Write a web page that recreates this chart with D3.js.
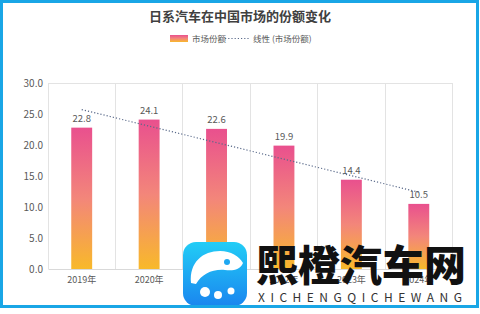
<!DOCTYPE html>
<meta charset="utf-8">
<script src="https://d3js.org/d3.v7.min.js"></script>

<style>
    body { margin: 0; background: #fff; }
    text { font-family: "Noto Sans CJK SC", "Noto Sans", sans-serif; }
    .grid line { stroke: #e3e3e3; stroke-width: 1; shape-rendering: crispEdges; }
</style>

<div id="vis"></div>

<script>
    var years = ["2019年", "2020年", "2021年", "2022年", "2023年", "2024年"]
    var share = [22.8, 24.1, 22.6, 19.9, 14.4, 10.5]
    var yTicks = [0, 5, 10, 15, 20, 25, 30]

    var W = 480, H = 314
    var margin = {top: 83, right: 27.5, bottom: 45, left: 48}
    var width = W - margin.left - margin.right
    var height = H - margin.top - margin.bottom

    var svg = d3.select("#vis").append("svg")
        .attr("width", W).attr("height", H)

    // gradient for bars + legend swatch
    var defs = svg.append("defs")
    var grad = defs.append("linearGradient").attr("id", "barGrad")
        .attr("x1", 0).attr("y1", 0).attr("x2", 0).attr("y2", 1)
    grad.append("stop").attr("offset", "0%").attr("stop-color", "#e9508e")
    grad.append("stop").attr("offset", "50%").attr("stop-color", "#f3867a")
    grad.append("stop").attr("offset", "100%").attr("stop-color", "#f8b92a")

    var logoGrad = defs.append("linearGradient").attr("id", "logoGrad")
        .attr("x1", 0).attr("y1", 0).attr("x2", 0).attr("y2", 1)
    logoGrad.append("stop").attr("offset", "0%").attr("stop-color", "#22cdf6")
    logoGrad.append("stop").attr("offset", "100%").attr("stop-color", "#1a86ef")

    // title
    svg.append("text")
        .attr("x", 240).attr("y", 21)
        .attr("text-anchor", "middle")
        .style("font-size", "13px").style("font-weight", "bold")
        .attr("fill", "#404040")
        .text("日系汽车在中国市场的份额变化")

    // legend
    var legend = svg.append("g").style("font-size", "8.5px").attr("fill", "#595959")
    legend.append("rect").attr("x", 170).attr("y", 35).attr("width", 18).attr("height", 7)
        .attr("fill", "url(#barGrad)")
    legend.append("text").attr("x", 192).attr("y", 42).text("市场份额")
    legend.append("line").attr("x1", 225).attr("x2", 249).attr("y1", 38.5).attr("y2", 38.5)
        .attr("stroke", "#5a6a8a").attr("stroke-width", 1.2).attr("stroke-dasharray", "1.2,2")
    legend.append("text").attr("x", 253).attr("y", 42).text("线性 (市场份额)")

    var g = svg.append("g")
        .attr("transform", "translate(" + margin.left + "," + margin.top + ")")

    var x = d3.scaleBand().domain(years).range([0, width]).padding(0)
    var y = d3.scaleLinear().domain([0, 30]).range([height, 0])

    // vertical category separators
    var edges = years.map(function(d) { return x(d) }).concat([width])
    g.append("g").attr("class", "grid")
        .selectAll("line").data(edges).enter().append("line")
        .attr("x1", function(d) { return d }).attr("x2", function(d) { return d })
        .attr("y1", 0).attr("y2", height)

    // top border line
    g.append("g").attr("class", "grid").append("line")
        .attr("x1", 0).attr("x2", width).attr("y1", y(30)).attr("y2", y(30))

    // y axis
    var yAxis = g.append("g")
        .call(d3.axisLeft(y).tickValues(yTicks).tickFormat(d3.format(".1f")).tickSize(0).tickPadding(5))
    yAxis.select(".domain").remove()
    yAxis.selectAll("text").style("font-size", "10px").attr("fill", "#595959")

    // x axis
    var xAxis = g.append("g")
        .attr("transform", "translate(0," + height + ")")
        .call(d3.axisBottom(x).tickSize(0).tickPadding(8))
    xAxis.select(".domain").attr("stroke", "#d9d9d9")
    xAxis.selectAll("text").style("font-size", "9px").attr("fill", "#595959")

    // bars
    var barW = x.bandwidth() * 0.31
    var data = years.map(function(d, i) { return {year: d, value: share[i]} })

    g.append("g").selectAll("rect").data(data).enter().append("rect")
        .attr("x", function(d) { return x(d.year) + (x.bandwidth() - barW) / 2 })
        .attr("y", function(d) { return y(d.value) })
        .attr("width", barW)
        .attr("height", function(d) { return height - y(d.value) })
        .attr("fill", "url(#barGrad)")

    // value labels
    g.append("g").selectAll("text").data(data).enter().append("text")
        .attr("x", function(d) { return x(d.year) + x.bandwidth() / 2 })
        .attr("y", function(d) { return y(d.value) - 6 })
        .attr("text-anchor", "middle")
        .style("font-size", "9.5px").attr("fill", "#595959")
        .text(function(d) { return d.value.toFixed(1) })

    // linear trendline (least squares on the bar values)
    var n = share.length
    var mx = (n + 1) / 2, my = d3.mean(share)
    var sxy = d3.sum(share, function(v, i) { return (i + 1 - mx) * (v - my) })
    var sxx = d3.sum(share, function(v, i) { return (i + 1 - mx) * (i + 1 - mx) })
    var slope = sxy / sxx
    var trend = data.map(function(d, i) { return {year: d.year, value: my + slope * (i + 1 - mx)} })

    g.append("path").datum(trend)
        .attr("fill", "none")
        .attr("stroke", "#5a6a8a").attr("stroke-width", 1.2).attr("stroke-dasharray", "1.2,2")
        .attr("d", d3.line()
            .x(function(d) { return x(d.year) + x.bandwidth() / 2 })
            .y(function(d) { return y(d.value) }))

    // watermark
    var wm = svg.append("g")
    wm.append("rect").attr("x", 183).attr("y", 242).attr("width", 64).attr("height", 64).attr("rx", 13)
        .attr("fill", "url(#logoGrad)")
    wm.append("path")
        .attr("d", "M191,283 C189,262 203,251 220,251 C231,251 239,256 243,263 C240,270 233,271 225,270 C212,269 202,274 196,284 Z")
        .attr("fill", "#fff")
    wm.append("circle").attr("cx", 227).attr("cy", 262).attr("r", 3).attr("fill", "#1ea8f2")
    wm.selectAll(".dot").data([[205, 292, 5], [218, 295, 4], [231, 291, 3.5]]).enter().append("circle")
        .attr("cx", function(d) { return d[0] }).attr("cy", function(d) { return d[1] }).attr("r", function(d) { return d[2] })
        .attr("fill", "#fff")
    wm.append("text").attr("x", 256).attr("y", 281)
        .style("font-size", "42px").style("font-weight", 900).attr("fill", "#111")
        .attr("textLength", 210).attr("lengthAdjust", "spacing")
        .text("熙橙汽车网")
    wm.append("text").attr("x", 258).attr("y", 302)
        .style("font-size", "12px").attr("fill", "#333")
        .attr("textLength", 204).attr("lengthAdjust", "spacing")
        .text("XICHENGQICHEWANG")

    // outer frame
    svg.append("rect").attr("x", 1.5).attr("y", 1.5).attr("width", 476).attr("height", 305)
        .attr("fill", "none").attr("stroke", "#19a6e6").attr("stroke-width", 3)
</script>
